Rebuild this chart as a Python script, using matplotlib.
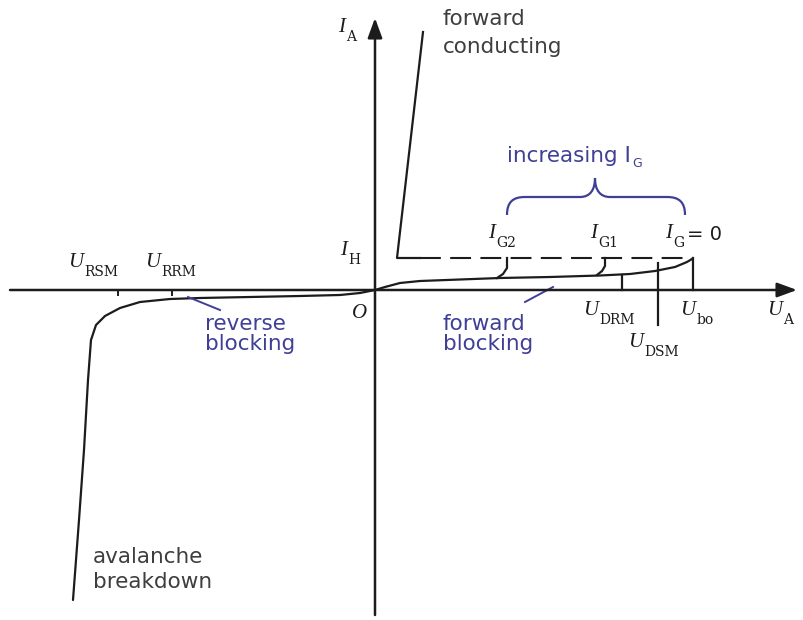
import matplotlib
matplotlib.use("Agg")
import matplotlib.pyplot as plt
from matplotlib.path import Path
from matplotlib.patches import PathPatch

INK = "#1c1c1c"
GRAY = "#3e3e3e"
BLUE = "#3f3f96"

# Schematic thyristor I-V characteristic (arbitrary units, origin at O)
fwd_block_x = [0, 10, 25, 45, 85, 125, 175, 225, 255, 280, 300, 312, 317]
fwd_block_y = [0, 3, 7, 9, 10.5, 12, 13, 14.5, 16, 19, 23, 28, 31]

rev_x = [0, -15, -35, -75, -125, -175, -205, -235, -255, -270, -279, -284, -287, -291, -296, -302]
rev_y = [0, -3, -5, -6, -7, -8, -9, -12, -18, -26, -35, -50, -90, -160, -230, -310]

fwd_cond_x = [45, 22, 48]
fwd_cond_y = [32, 32, 258]

holding_x = [45, 318]
holding_y = [32, 32]

ig2_x = [132, 132, 128, 122]
ig2_y = [32, 22, 16, 12]
ig1_x = [230, 230, 227, 222]
ig1_y = [32, 24, 19, 15]

u_drm, u_dsm, u_bo = 247, 283, 318
u_rsm, u_rrm = -257, -203

fig = plt.figure(figsize=(8.04, 6.2), dpi=100)
ax = fig.add_axes([0, 0, 1, 1])
ax.set_xlim(-375, 429)
ax.set_ylim(-330, 290)
ax.axis("off")

arrow = dict(arrowstyle="-|>,head_length=0.6,head_width=0.22", lw=1.8,
             color=INK, shrinkA=0, shrinkB=0, mutation_scale=20)
ax.annotate("", xy=(422, 0), xytext=(-365, 0), arrowprops=arrow)
ax.annotate("", xy=(0, 272), xytext=(0, -325), arrowprops=arrow)

lw = 1.6
ax.plot(fwd_block_x, fwd_block_y, color=INK, lw=lw, solid_capstyle="round")
ax.plot(rev_x, rev_y, color=INK, lw=lw, solid_capstyle="round")
ax.plot(fwd_cond_x, fwd_cond_y, color=INK, lw=lw)
dash, = ax.plot(holding_x, holding_y, color=INK, lw=1.5)
dash.set_dashes((10, 4.5))
ax.plot(ig2_x, ig2_y, color=INK, lw=lw)
ax.plot(ig1_x, ig1_y, color=INK, lw=lw)

# voltage markers
ax.plot([u_drm, u_drm], [0, 15], color=INK, lw=lw)
ax.plot([u_dsm, u_dsm], [27, -35], color=INK, lw=lw)
ax.plot([u_bo, u_bo], [0, 32], color=INK, lw=lw)
for u in (u_rsm, u_rrm):
    ax.plot([u, u], [0, -5], color=INK, lw=1.4)

# leader lines
ax.plot([178, 150], [3, -12], color=BLUE, lw=1.4)
ax.plot([-187, -155], [-7, -20], color=BLUE, lw=1.4)

# brace over the gate-current curves
verts = [(132, 75), (132, 88), (138, 93), (150, 93), (205, 93),
         (215, 93), (220, 100), (220, 112),
         (220, 100), (225, 93), (235, 93), (292, 93),
         (304, 93), (310, 88), (310, 75)]
codes = [Path.MOVETO, Path.CURVE4, Path.CURVE4, Path.CURVE4, Path.LINETO,
         Path.CURVE4, Path.CURVE4, Path.CURVE4,
         Path.CURVE4, Path.CURVE4, Path.CURVE4, Path.LINETO,
         Path.CURVE4, Path.CURVE4, Path.CURVE4]
ax.add_patch(PathPatch(Path(verts, codes), fill=False, edgecolor=BLUE, lw=1.6))


def sym(x, y, main, sub, tail=None, size=15, subsize=10):
    t = ax.text(x, y, main, fontsize=size, family="Liberation Serif",
                style="italic", color=INK, va="baseline", ha="left")
    s = ax.annotate(sub, xy=(1, 0), xycoords=t, xytext=(1, -3),
                    textcoords="offset points", fontsize=subsize,
                    family="DejaVu Serif", color=INK, va="baseline")
    if tail:
        ax.annotate(tail, xy=(1, 0), xycoords=s, xytext=(2, 7.5),
                    textcoords="offset points", fontsize=14,
                    family="DejaVu Sans", color=INK, va="baseline")


sym(-37, 258, "I", "A")
sym(-35, 35, "I", "H")
sym(113, 52, "I", "G2")
sym(215, 52, "I", "G1")
sym(290, 52, "I", "G", tail="= 0")
sym(-307, 23, "U", "RSM")
sym(-230, 23, "U", "RRM")
sym(208, -25, "U", "DRM")
sym(253, -57, "U", "DSM")
sym(305, -25, "U", "bo")
sym(392, -25, "U", "A")
ax.text(-23, -28, "O", fontsize=15, family="Liberation Serif", style="italic",
        color=INK, va="baseline")

tsize = 15.5
notes = [
    ("forward", 68, 265, GRAY),
    ("conducting", 68, 237, GRAY),
    ("avalanche", -282, -273, GRAY),
    ("breakdown", -282, -298, GRAY),
    ("reverse", -170, -40, BLUE),
    ("blocking", -170, -60, BLUE),
    ("forward", 68, -40, BLUE),
    ("blocking", 68, -60, BLUE),
]
for txt, x, y, c in notes:
    ax.text(x, y, txt, fontsize=tsize, color=c, va="baseline", ha="left")

inc = ax.text(132, 128, "increasing I", fontsize=tsize, color=BLUE,
              va="baseline", ha="left")
ax.annotate("G", xy=(1, 0), xycoords=inc, xytext=(1, -1),
            textcoords="offset points", fontsize=9, color=BLUE, va="baseline")

fig.savefig("out.png", dpi=100)
